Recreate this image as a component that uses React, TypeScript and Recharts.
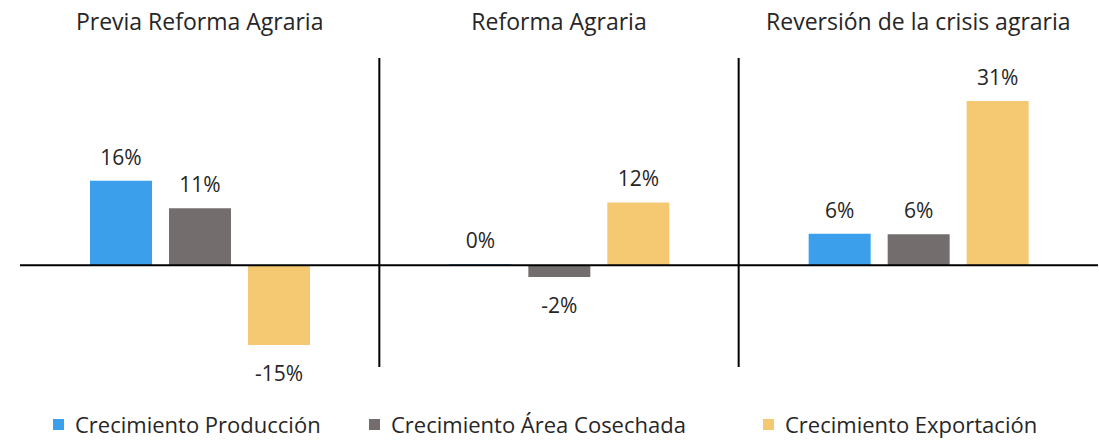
import React from "react";
import { BarChart, Bar, XAxis, YAxis, ReferenceLine, LabelList } from "recharts";

const categories = ["Previa Reforma Agraria", "Reforma Agraria", "Reversión de la crisis agraria"];
const produccion = [16, 0, 6];
const area = [10.8, -2.2, 5.9];
const exportacion = [-15.1, 11.9, 31.1];
const produccionLabels = ["16%", "0%", "6%"];
const areaLabels = ["11%", "-2%", "6%"];
const exportacionLabels = ["-15%", "12%", "31%"];
const seriesNames = ["Crecimiento Producción", "Crecimiento Área Cosechada", "Crecimiento Exportación"];
const colors = ["#3C9FEB", "#736E6D", "#F5C872"];

const data = categories.map((c, i) => ({
  name: c,
  prod: produccion[i],
  area: area[i],
  exp: exportacion[i],
  prodL: produccionLabels[i],
  areaL: areaLabels[i],
  expL: exportacionLabels[i],
}));

const FONT = "'Open Sans', sans-serif";
const legendSquareX = [53, 369, 763];

const renderLabel = (props: any) => {
  const { x, y, width, height, value } = props;
  const top = Math.min(y, y + height);
  const bottom = Math.max(y, y + height);
  const neg = String(value).startsWith("-");
  const ty = neg ? bottom + 36 : top - 16;
  return (
    <text x={x + width / 2} y={ty} textAnchor="middle" fontSize={21} fill="#262626" fontFamily={FONT}>
      {value}
    </text>
  );
};

const TitleTick = (props: any) => {
  const { x, payload } = props;
  return (
    <text x={x} y={30} textAnchor="middle" fontSize={23} fill="#262626" fontFamily={FONT}>
      {payload.value}
    </text>
  );
};

export default function App() {
  return (
    <div style={{ position: "absolute", left: 0, top: 0, width: 1099, height: 444, background: "#fff" }}>
      <BarChart
        width={1099}
        height={444}
        data={data}
        margin={{ top: 57, right: 1, bottom: 77, left: 20 }}
        barSize={62}
        barGap={17}
      >
        <XAxis dataKey="name" orientation="top" height={1} axisLine={false} tickLine={false} tick={<TitleTick />} interval={0} />
        <YAxis hide domain={[-19.25, 39.25]} />
        <ReferenceLine x={categories[1]} position="start" stroke="#000" strokeWidth={2} />
        <ReferenceLine x={categories[2]} position="start" stroke="#000" strokeWidth={2} />
        <Bar dataKey="prod" fill={colors[0]} minPointSize={1} isAnimationActive={false}>
          <LabelList dataKey="prodL" content={renderLabel} />
        </Bar>
        <Bar dataKey="area" fill={colors[1]} isAnimationActive={false}>
          <LabelList dataKey="areaL" content={renderLabel} />
        </Bar>
        <Bar dataKey="exp" fill={colors[2]} isAnimationActive={false}>
          <LabelList dataKey="expL" content={renderLabel} />
        </Bar>
        <ReferenceLine y={0} stroke="#000" strokeWidth={2} />
      </BarChart>
      {seriesNames.map((n, i) => (
        <div
          key={n}
          style={{
            position: "absolute",
            top: 408,
            left: legendSquareX[i],
            display: "flex",
            alignItems: "center",
            fontFamily: FONT,
            fontSize: 22,
            color: "#262626",
            whiteSpace: "nowrap",
            height: 32,
          }}
        >
          <span style={{ display: "inline-block", width: 11, height: 11, background: colors[i], marginRight: 11 }} />
          <span>{n}</span>
        </div>
      ))}
    </div>
  );
}
